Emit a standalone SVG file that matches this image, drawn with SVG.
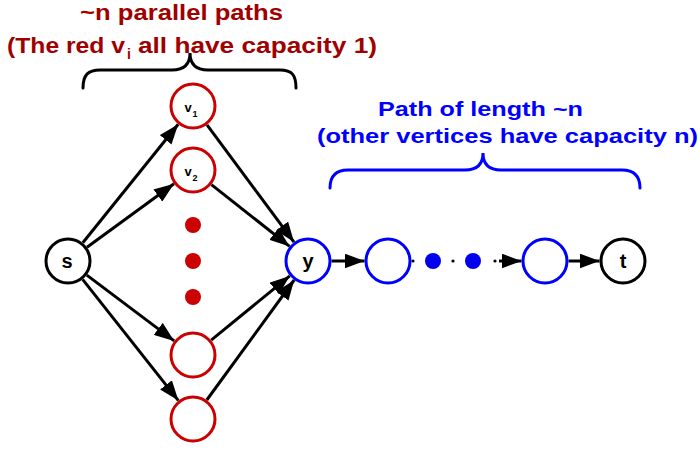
<svg xmlns="http://www.w3.org/2000/svg" width="700" height="452" viewBox="0 0 700 452">
<style>
text{font-family:"Liberation Sans",Arial,sans-serif;font-weight:bold}
.red{fill:#a00000}
.blue{fill:#0000ff}
.nr{fill:#fff;stroke:#cc0000;stroke-width:3}
.nb{fill:#fff;stroke:#0000ff;stroke-width:3}
.nk{fill:#fff;stroke:#000;stroke-width:3}
.e{stroke:#000;stroke-width:3;fill:none;marker-end:url(#ah)}
.lbl{font-size:20px;fill:#000;text-anchor:middle}
.brace{fill:none;stroke-width:3;stroke-linecap:round}
</style>
<defs>
<marker id="ah" markerUnits="userSpaceOnUse" markerWidth="21" markerHeight="15" refX="20" refY="7.5" orient="auto">
<path d="M0,0 L20,7.5 L0,15 z" fill="#000"/>
</marker>
</defs>
<g id="labels">
<text class="red" x="80" y="20" font-size="22" textLength="203" lengthAdjust="spacingAndGlyphs">~n parallel paths</text>
<text class="red" x="7" y="53" font-size="22" textLength="118" lengthAdjust="spacingAndGlyphs">(The red v</text>
<text class="red" x="127" y="59" font-size="14">i</text>
<text class="red" x="138" y="53" font-size="22" textLength="239" lengthAdjust="spacingAndGlyphs">all have capacity 1)</text>
<text class="blue" x="378" y="116" font-size="21" textLength="205" lengthAdjust="spacingAndGlyphs">Path of length ~n</text>
<text class="blue" x="317" y="143" font-size="21" textLength="381" lengthAdjust="spacingAndGlyphs">(other vertices have capacity n)</text>
</g>
<g id="braces">
<path class="brace" stroke="#000" d="M83,88 C83,75 88,70 100,70 L172,70 C184,70 190,64 190,53 C190,64 196,70 208,70 L280,70 C292,70 296,75 296,88"/>
<path class="brace" stroke="#0000ff" d="M330,188 C330,176 336,170 348,170 L465,170 C477,170 483,164 483,153 C483,164 489,170 501,170 L622,170 C634,170 640,176 640,188"/>
</g>
<g id="connectors">
<line class="e" x1="82.8" y1="242.7" x2="178.2" y2="124.3"/>
<line class="e" x1="87" y1="247.2" x2="174" y2="183.8"/>
<line class="e" x1="86.8" y1="275.1" x2="174.2" y2="340.9"/>
<line class="e" x1="82.6" y1="279.4" x2="178.4" y2="400.6"/>
<line class="e" x1="207" y1="124.9" x2="294" y2="242.1"/>
<line class="e" x1="211.4" y1="184.6" x2="289.6" y2="246.4"/>
<line class="e" x1="211.2" y1="340.1" x2="289.8" y2="275.9"/>
<line class="e" x1="206.8" y1="400" x2="294.2" y2="280"/>
<line class="e" x1="331.5" y1="261" x2="364.5" y2="261"/>
<line class="e" x1="568.5" y1="261" x2="599.5" y2="261"/>
<line class="e" x1="499" y1="261" x2="521.5" y2="261"/>
<circle cx="413" cy="261" r="1.6" fill="#000"/>
<circle cx="453" cy="261" r="1.6" fill="#000"/>
<circle cx="495" cy="261" r="1.6" fill="#000"/>
</g>
<g id="s"><circle class="nk" cx="68" cy="261" r="22"/><text class="lbl" x="67" y="268">s</text></g>
<g id="v1"><circle class="nr" cx="193" cy="106" r="22"/><text x="188" y="112" font-size="13" fill="#000" text-anchor="middle">v</text><text x="195" y="117" font-size="9" fill="#000" text-anchor="middle">1</text></g>
<g id="v2"><circle class="nr" cx="193" cy="170" r="22"/><text x="188" y="176" font-size="13" fill="#000" text-anchor="middle">v</text><text x="195" y="181" font-size="9" fill="#000" text-anchor="middle">2</text></g>
<g id="reddots" fill="#cc0000"><circle cx="193" cy="225" r="8"/><circle cx="193" cy="261" r="8"/><circle cx="193" cy="297" r="8"/></g>
<g id="v3"><circle class="nr" cx="193" cy="355" r="22"/></g>
<g id="v4"><circle class="nr" cx="193" cy="419" r="22"/></g>
<g id="y"><circle class="nb" cx="308" cy="261" r="22"/><text class="lbl" x="308" y="268">y</text></g>
<g id="p1"><circle class="nb" cx="388" cy="261" r="22"/></g>
<g id="bluedots" fill="#0000ee"><circle cx="433" cy="261" r="8"/><circle cx="473" cy="261" r="8"/></g>
<g id="p2"><circle class="nb" cx="545" cy="261" r="22"/></g>
<g id="t"><circle class="nk" cx="623" cy="261" r="22"/><text class="lbl" x="623" y="268">t</text></g>
</svg>
